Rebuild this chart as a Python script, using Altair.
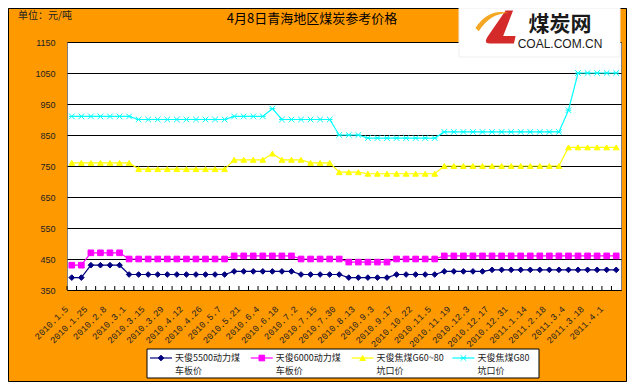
import altair as alt
import pandas as pd

# ---- data ----
x_labels = ["2010.1.5", "2010.1.25", "2010.2.8", "2010.3.1", "2010.3.15", "2010.3.29",
            "2010.4.12", "2010.4.26", "2010.5.7", "2010.5.21", "2010.6.4", "2010.6.18",
            "2010.7.2", "2010.7.15", "2010.7.30", "2010.8.13", "2010.9.3", "2010.9.17",
            "2010.10.22", "2010.11.5", "2010.11.19", "2010.12.3", "2010.12.17", "2010.12.31",
            "2011.1.14", "2011.2.18", "2011.3.4", "2011.3.18", "2011.4.1"]

p5500 = [390, 390, 430, 430, 430, 430, 400, 400, 400, 400, 400, 400, 400, 400, 400, 400,
         400, 410, 410, 410, 410, 410, 410, 410, 400, 400, 400, 400, 400, 390, 390, 390,
         390, 390, 400, 400, 400, 400, 400, 410, 410, 410, 410, 410, 415, 415, 415, 415,
         415, 415, 415, 415, 415, 415, 415, 415, 415, 415]
p6000 = [430, 430, 470, 470, 470, 470, 450, 450, 450, 450, 450, 450, 450, 450, 450, 450,
         450, 460, 460, 460, 460, 460, 460, 460, 450, 450, 450, 450, 450, 440, 440, 440,
         440, 440, 450, 450, 450, 450, 450, 460, 460, 460, 460, 460, 460, 460, 460, 460,
         460, 460, 460, 460, 460, 460, 460, 460, 460, 460]
g6080 = [760, 760, 760, 760, 760, 760, 760, 740, 740, 740, 740, 740, 740, 740, 740, 740,
         740, 770, 770, 770, 770, 790, 770, 770, 770, 760, 760, 760, 730, 730, 730, 725,
         725, 725, 725, 725, 725, 725, 725, 750, 750, 750, 750, 750, 750, 750, 750, 750,
         750, 750, 750, 750, 810, 810, 810, 810, 810, 810]
g80 = [910, 910, 910, 910, 910, 910, 910, 900, 900, 900, 900, 900, 900, 900, 900, 900,
       900, 910, 910, 910, 910, 935, 900, 900, 900, 900, 900, 900, 850, 850, 850, 840,
       840, 840, 840, 840, 840, 840, 840, 860, 860, 860, 860, 860, 860, 860, 860, 860,
       860, 860, 860, 860, 930, 1050, 1050, 1050, 1050, 1050]

series_keys = ["s5500", "s6000", "g6080", "g80"]
legend_line1 = ["天俊5500动力煤", "天俊6000动力煤", "天俊焦煤G60~80", "天俊焦煤G80"]
legend_line2 = ["车板价", "车板价", "坑口价", "坑口价"]
colors = ["#000080", "#FF00FF", "#FFFF00", "#00FFFF"]
asterisk = "M-1,-1L1,1M-1,1L1,-1M-1,0L1,0"
shapes = ["diamond", "square", "triangle-up", asterisk]
y_ticks = [350, 450, 550, 650, 750, 850, 950, 1050, 1150]

rows = []
for key, vals in zip(series_keys, [p5500, p6000, g6080, g80]):
    for i, v in enumerate(vals):
        rows.append({"idx": i, "value": v, "series": key})
df = pd.DataFrame(rows)
idx_df = pd.DataFrame({"idx": sorted(df["idx"].unique())})

label_arr = "[" + ",".join('"%s"' % s for s in x_labels) + "]"
label_expr = "datum.value % 2 == 0 ? " + label_arr + "[datum.value / 2] : ''"

x_scale = alt.Scale(type="band", paddingInner=0, paddingOuter=0)
x_axis = alt.Axis(title=None, labelExpr=label_expr, labelAngle=-45, labelAlign="right",
                  labelBaseline="middle", ticks=False, domain=True, domainColor="black",
                  labelPadding=17, labelOffset=-5, labelFontSize=9, labelColor="#222222",
                  labelFont="Liberation Mono", grid=False, labelOverlap=False)
y_scale = alt.Scale(domain=[350, 1150], nice=False, zero=False)
y_axis = alt.Axis(title=None, values=y_ticks, grid=True, gridColor="black", gridWidth=1,
                  domain=False, ticks=False, labelPadding=12, labelFontSize=9,
                  labelColor="#222222", labelFont="Liberation Sans", format="d")

color_scale = alt.Scale(domain=series_keys, range=colors)
shape_scale = alt.Scale(domain=series_keys, range=shapes)

x_enc = alt.X("idx:O", scale=x_scale, axis=x_axis)
y_enc = alt.Y("value:Q", scale=y_scale, axis=y_axis)

base = alt.Chart(df)
lines = base.mark_line(strokeWidth=1.2).encode(
    x=x_enc, y=y_enc,
    color=alt.Color("series:N", scale=color_scale, legend=None))
points = base.mark_point(filled=True, size=32, strokeWidth=1, opacity=1).encode(
    x=x_enc, y=y_enc,
    fill=alt.Fill("series:N", scale=color_scale, legend=None),
    stroke=alt.Stroke("series:N", scale=color_scale, legend=None),
    shape=alt.Shape("series:N", scale=shape_scale, legend=None))

ticks = alt.Chart(idx_df).mark_rule(color="black", strokeWidth=1).encode(
    x=alt.X("idx:O", scale=x_scale, axis=x_axis, bandPosition=0),
    y=alt.value(244), y2=alt.value(248))

one = pd.DataFrame({"a": [0]})
deco = []
# outer border
deco.append(alt.Chart(one).mark_rect(fillOpacity=0, stroke="black", strokeWidth=1).encode(
    x=alt.value(-58.5), x2=alt.value(559.5), y=alt.value(-33.5), y2=alt.value(339.5)))
# title and unit
deco.append(alt.Chart(one).mark_text(text="4月8日青海地区煤炭参考价格", font="Noto Sans CJK SC",
                                     fontSize=13, color="black", align="center",
                                     baseline="middle").encode(x=alt.value(245), y=alt.value(-23)))
deco.append(alt.Chart(one).mark_text(text="单位：元/吨", font="Noto Sans CJK SC", fontSize=10,
                                     color="#222222", align="left",
                                     baseline="middle").encode(x=alt.value(-49), y=alt.value(-26)))
# logo
deco.append(alt.Chart(one).mark_rect(fill="white", stroke="#eeeeee").encode(
    x=alt.value(392), x2=alt.value(553), y=alt.value(-34), y2=alt.value(15)))
deco.append(alt.Chart(one).mark_point(
    shape="M0.4,-1 L0.85,-1 L0.25,0.55 L1,0.55 L0.9,1 L-0.55,1 Q-0.95,1 -0.7,0.6 Z",
    size=1100, filled=True, fill="#D42A2A", opacity=1).encode(x=alt.value(432), y=alt.value(-15)))
deco.append(alt.Chart(one).mark_point(
    shape="M-1,0.3 Q-0.2,-0.9 1,-0.6 Q-0.1,-0.6 -0.8,0.5 Z",
    size=1100, filled=True, fill="#F5A623", opacity=1).encode(x=alt.value(425), y=alt.value(-19)))
deco.append(alt.Chart(one).mark_text(text="煤炭网", font="Noto Sans CJK SC", fontWeight="bold",
                                     fontSize=21, color="#1a1a1a", align="center",
                                     baseline="middle").encode(x=alt.value(493), y=alt.value(-17)))
deco.append(alt.Chart(one).mark_text(text="COAL.COM.CN", font="Liberation Sans", fontSize=12,
                                     color="#1a1a1a", align="center",
                                     baseline="middle").encode(x=alt.value(493), y=alt.value(2)))
# legend
deco.append(alt.Chart(one).mark_rect(fill="white", stroke="black", strokeWidth=1).encode(
    x=alt.value(80), x2=alt.value(472), y=alt.value(307), y2=alt.value(336)))
for i in range(4):
    off = i * 100.8
    deco.append(alt.Chart(one).mark_rule(color=colors[i], strokeWidth=1.2).encode(
        x=alt.value(83 + off), x2=alt.value(105 + off), y=alt.value(316)))
    deco.append(alt.Chart(one).mark_point(shape=shapes[i], size=32, filled=True, fill=colors[i],
                                          stroke=colors[i], strokeWidth=1, opacity=1).encode(
        x=alt.value(94 + off), y=alt.value(316)))
    deco.append(alt.Chart(one).mark_text(text=legend_line1[i], font="Noto Sans CJK SC", fontSize=9,
                                         color="#222222", align="left", baseline="middle").encode(
        x=alt.value(108 + off), y=alt.value(315.5)))
    deco.append(alt.Chart(one).mark_text(text=legend_line2[i], font="Noto Sans CJK SC", fontSize=9,
                                         color="#222222", align="left", baseline="middle").encode(
        x=alt.value(108 + off), y=alt.value(328.5)))

chart = alt.layer(lines, points, ticks, *deco).properties(
    width=554, height=248,
    padding={"left": 59, "top": 34, "right": 6, "bottom": 92},
    autosize=alt.AutoSizeParams(type="none"),
    background="#FF9900",
).configure_view(stroke="#808080", strokeWidth=1, fill="white")

chart.save("out.html", embed_options={"renderer": "svg", "actions": False})
